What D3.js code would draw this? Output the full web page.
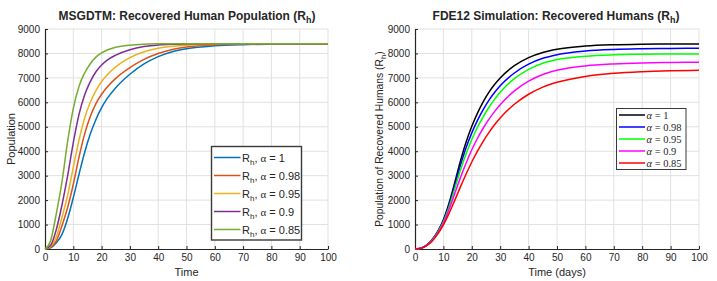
<!DOCTYPE html>
<html>
<head>
<meta charset="utf-8">
<script src="https://cdn.jsdelivr.net/npm/d3@7"></script>
<style>
  body { margin: 0; background: #fff; }
  text { font-family: "Liberation Sans", Arial, sans-serif; fill: #262626; }
</style>
</head>
<body>
<div id="chart"></div>
<script>
// Set dimensions
const width = 717;
const height = 281;

// ---- data: left panel (MSGDTM) ----
const timeLeft = [0, 2, 4, 6, 8, 10, 12, 14, 16, 18, 20, 22, 25, 30, 35, 40, 45, 50, 60, 70, 80, 90, 100];
const alphaLeft = ["1", "0.98", "0.95", "0.9", "0.85"];
const rhLeft1   = [0, 50, 250, 600, 1250, 2100, 3050, 3950, 4700, 5300, 5780, 6160, 6600, 7150, 7570, 7870, 8070, 8190, 8310, 8360, 8382, 8392, 8397];
const rhLeft098 = [0, 70, 330, 950, 1700, 2650, 3750, 4700, 5420, 5950, 6330, 6630, 6980, 7420, 7760, 8000, 8160, 8260, 8350, 8385, 8395, 8398, 8400];
const rhLeft095 = [0, 100, 500, 1300, 2200, 3350, 4450, 5350, 6000, 6480, 6850, 7130, 7450, 7830, 8070, 8210, 8290, 8340, 8380, 8395, 8400, 8400, 8400];
const rhLeft09  = [0, 150, 800, 1800, 3000, 4350, 5500, 6300, 6850, 7250, 7530, 7730, 7930, 8150, 8280, 8345, 8375, 8390, 8398, 8400, 8400, 8400, 8400];
const rhLeft085 = [0, 350, 1450, 2750, 4400, 5750, 6650, 7200, 7580, 7850, 8020, 8140, 8250, 8340, 8380, 8395, 8400, 8400, 8400, 8400, 8400, 8400, 8400];

// ---- data: right panel (FDE12) ----
const timeRight = [0, 2, 4, 6, 8, 10, 12, 14, 16, 18, 20, 22, 24, 26, 28, 30, 35, 40, 45, 50, 60, 70, 80, 90, 100];
const alphaRight = ["1", "0.98", "0.95", "0.9", "0.85"];
const rhRight1   = [0, 30, 150, 380, 720, 1200, 1880, 2720, 3600, 4380, 5020, 5560, 6020, 6410, 6730, 7000, 7500, 7830, 8040, 8170, 8300, 8355, 8378, 8386, 8390];
const rhRight098 = [0, 30, 145, 370, 700, 1150, 1800, 2600, 3420, 4150, 4750, 5260, 5700, 6080, 6400, 6680, 7200, 7560, 7800, 7950, 8100, 8165, 8192, 8204, 8210];
const rhRight095 = [0, 28, 140, 355, 680, 1110, 1720, 2470, 3220, 3900, 4480, 4980, 5410, 5790, 6120, 6410, 6970, 7350, 7600, 7750, 7890, 7945, 7966, 7976, 7980];
const rhRight09  = [0, 27, 135, 340, 650, 1060, 1620, 2270, 2920, 3520, 4060, 4530, 4940, 5300, 5620, 5900, 6470, 6870, 7140, 7310, 7490, 7570, 7610, 7630, 7640];
const rhRight085 = [0, 25, 125, 320, 610, 990, 1460, 1990, 2540, 3070, 3560, 4000, 4400, 4760, 5080, 5360, 5920, 6330, 6620, 6820, 7060, 7190, 7255, 7290, 7310];

// ticks
const xTicks = d3.range(0, 101, 10);
const yTicks = d3.range(0, 9001, 1000);

const svg = d3.select("#chart")
  .append("svg")
  .attr("width", width)
  .attr("height", height)
  .attr("viewBox", [0, 0, width, height]);

const y = d3.scaleLinear().domain([0, 9000]).range([249, 29]);

function drawPanel(p) {
  const x = d3.scaleLinear().domain([0, 100]).range(p.xRange);
  const g = svg.append("g");

  // grid
  g.append("g").selectAll("line").data(xTicks.slice(1)).join("line")
    .attr("x1", d => x(d)).attr("x2", d => x(d))
    .attr("y1", y(0)).attr("y2", y(9000))
    .attr("stroke", "#e1e1e1").attr("stroke-width", 1);
  g.append("g").selectAll("line").data(yTicks.slice(1)).join("line")
    .attr("x1", x(0)).attr("x2", x(100))
    .attr("y1", d => y(d)).attr("y2", d => y(d))
    .attr("stroke", "#e1e1e1").attr("stroke-width", 1);

  // axes (ticks point inward like matlab)
  const xAxis = g.append("g")
    .attr("transform", `translate(0,${y(0)})`)
    .call(d3.axisBottom(x).tickValues(xTicks).tickFormat(d3.format("d"))
      .tickSize(-3).tickPadding(5).tickSizeOuter(0));
  const yAxis = g.append("g")
    .attr("transform", `translate(${x(0)},0)`)
    .call(d3.axisLeft(y).tickValues(yTicks).tickFormat(d3.format("d"))
      .tickSize(-3).tickPadding(5).tickSizeOuter(0));
  [xAxis, yAxis].forEach(a => {
    a.select(".domain").attr("stroke", "#262626").attr("stroke-width", 1.2);
    a.selectAll(".tick line").attr("stroke", "#262626");
    a.selectAll("text").style("font-size", "10px").attr("fill", "#262626")
      .style("font-family", "'Liberation Sans', Arial, sans-serif");
  });

  // curves
  const line = d3.line()
    .x((d, i) => x(p.time[i]))
    .y(d => y(d))
    .curve(d3.curveMonotoneX);

  g.append("g").selectAll("path").data(p.series).join("path")
    .attr("d", d => line(d))
    .attr("fill", "none")
    .attr("stroke", (d, i) => p.colors[i])
    .attr("stroke-width", 1.5);

  // title
  const title = g.append("text")
    .attr("x", p.titleX).attr("y", 20)
    .attr("text-anchor", "middle")
    .style("font-size", "12px").style("font-weight", "bold");
  title.append("tspan").text(p.title + " (R");
  title.append("tspan").text("h").attr("dy", 3).style("font-size", "9px");
  title.append("tspan").text(")").attr("dy", -3);

  // x label
  g.append("text")
    .attr("x", (p.xRange[0] + p.xRange[1]) / 2).attr("y", 276)
    .attr("text-anchor", "middle")
    .style("font-size", "11px")
    .text(p.xLabel);

  // y label
  const yl = g.append("text")
    .attr("transform", `translate(${p.yLabelX},${p.yLabelY}) rotate(-90)`)
    .attr("text-anchor", "middle")
    .style("font-size", p.yLabelSize + "px");
  yl.append("tspan").text(p.yLabel);
  if (p.yLabelSub) {
    yl.append("tspan").text(" (R");
    yl.append("tspan").text("h").attr("dy", 3).style("font-size", "8px");
    yl.append("tspan").text(")").attr("dy", -3);
  }

  // legend
  const L = p.legend;
  const lg = g.append("g");
  lg.append("rect")
    .attr("x", L.x).attr("y", L.y).attr("width", L.w).attr("height", L.h)
    .attr("fill", "#fff").attr("stroke", "#3a3a3a").attr("stroke-width", L.stroke);
  p.labels.forEach((lab, i) => {
    const yy = L.y + L.first + i * L.step;
    lg.append("line")
      .attr("x1", L.x + 2.5).attr("x2", L.x + L.lineW)
      .attr("y1", yy).attr("y2", yy)
      .attr("stroke", p.colors[i]).attr("stroke-width", 1.5);
    const t = lg.append("text")
      .attr("x", L.x + L.lineW + 1.5).attr("y", yy + 4)
      .style("font-size", L.font + "px");
    if (p.legendSub) {
      t.append("tspan").text("R");
      t.append("tspan").text("h").attr("dy", 3).style("font-size", "8px");
      t.append("tspan").text(", ").attr("dy", -3);
      t.append("tspan").text("\u03b1").style("font-family", "'Liberation Serif', serif");
      t.append("tspan").text(" = " + lab);
    } else {
      t.style("font-family", "'Liberation Serif', 'DejaVu Serif', serif");
      t.append("tspan").text("\u03b1").style("font-style", "italic");
      t.append("tspan").text(" = " + lab);
    }
  });
}

drawPanel({
  xRange: [45, 328],
  time: timeLeft,
  series: [rhLeft1, rhLeft098, rhLeft095, rhLeft09, rhLeft085],
  colors: ["#0072BD", "#D95319", "#EDB120", "#7E2F8E", "#77AC30"],
  labels: alphaLeft,
  title: "MSGDTM: Recovered Human Population",
  titleX: 187,
  xLabel: "Time",
  yLabel: "Population",
  yLabelSize: 11,
  yLabelX: 15, yLabelY: 139,
  legendSub: true,
  legend: { x: 211.5, y: 146.5, w: 90, h: 93.5, first: 11, step: 18, lineW: 29, font: 11, stroke: 1.4 }
});

drawPanel({
  xRange: [415, 699],
  time: timeRight,
  series: [rhRight1, rhRight098, rhRight095, rhRight09, rhRight085],
  colors: ["#000000", "#0000ff", "#00ff00", "#ff00ff", "#ff0000"],
  labels: alphaRight,
  title: "FDE12 Simulation: Recovered Humans",
  titleX: 556,
  xLabel: "Time (days)",
  yLabel: "Population of Recovered Humans",
  yLabelSub: true,
  yLabelSize: 10.3,
  yLabelX: 383, yLabelY: 139,
  legendSub: false,
  legend: { x: 616.5, y: 108.5, w: 69.5, h: 61, first: 6.5, step: 12, lineW: 28.5, font: 10.5, stroke: 1 }
});
</script>
</body>
</html>
